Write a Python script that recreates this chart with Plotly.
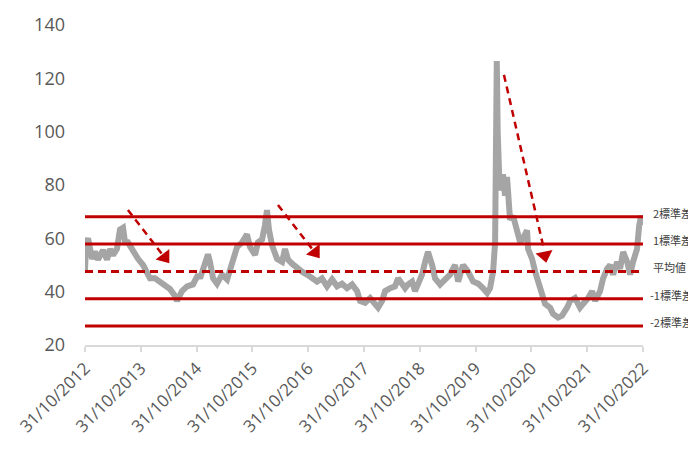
import plotly.graph_objects as go

# Index level, Oct 2012 - Oct 2022
dates = [
    "2012-10-31", "2012-11-07", "2012-11-20", "2012-12-16", "2013-01-04", "2013-01-24",
    "2013-02-26", "2013-03-24", "2013-04-13", "2013-05-02", "2013-05-28", "2013-06-17",
    "2013-07-07", "2013-07-20", "2013-08-08", "2013-09-04", "2013-09-23", "2013-10-13",
    "2013-11-15", "2013-12-11", "2013-12-30", "2014-02-01", "2014-03-06", "2014-04-08",
    "2014-05-10", "2014-06-12", "2014-06-25", "2014-07-28", "2014-08-30", "2014-10-08",
    "2014-11-10", "2014-11-23", "2014-12-12", "2015-01-14", "2015-01-27", "2015-02-16",
    "2015-03-14", "2015-04-16", "2015-05-19", "2015-06-20", "2015-07-23", "2015-08-25",
    "2015-09-26", "2015-10-16", "2015-11-18", "2015-12-07", "2016-01-03", "2016-01-22",
    "2016-02-04", "2016-02-17", "2016-03-08", "2016-04-10", "2016-05-13", "2016-06-01",
    "2016-06-21", "2016-07-17", "2016-08-19", "2016-09-20", "2016-10-23", "2016-12-02",
    "2016-12-28", "2017-01-29", "2017-03-03", "2017-04-05", "2017-05-08", "2017-06-09",
    "2017-07-12", "2017-08-14", "2017-09-16", "2017-10-05", "2017-11-07", "2017-12-10",
    "2018-01-11", "2018-01-31", "2018-02-26", "2018-03-18", "2018-04-20", "2018-05-22",
    "2018-06-11", "2018-07-07", "2018-07-27", "2018-08-15", "2018-09-11", "2018-09-30",
    "2018-10-20", "2018-11-15", "2018-12-05", "2018-12-24", "2019-01-20", "2019-02-08",
    "2019-03-13", "2019-04-15", "2019-05-17", "2019-06-19", "2019-07-09", "2019-08-10",
    "2019-09-12", "2019-10-15", "2019-11-17", "2019-12-19", "2020-01-15", "2020-02-03",
    "2020-02-23", "2020-03-07", "2020-03-18", "2020-03-24", "2020-03-30", "2020-04-06",
    "2020-04-28", "2020-05-11", "2020-05-24", "2020-05-31", "2020-06-13", "2020-07-03",
    "2020-07-29", "2020-08-18", "2020-09-06", "2020-10-02", "2020-10-09", "2020-11-04",
    "2020-11-24", "2020-12-13", "2021-01-09", "2021-01-28", "2021-03-02", "2021-03-21",
    "2021-04-23", "2021-05-19", "2021-06-21", "2021-07-11", "2021-08-12", "2021-09-14",
    "2021-10-04", "2021-11-06", "2021-12-02", "2021-12-21", "2022-01-23", "2022-02-12",
    "2022-03-10", "2022-03-30", "2022-04-18", "2022-05-15", "2022-06-03", "2022-06-23",
    "2022-07-19", "2022-08-08", "2022-08-27", "2022-09-22", "2022-10-06", "2022-10-19",
    "2022-10-31",
]
values = [
    48.0, 58.0, 60.0, 52.3, 55.0, 52.0,
    55.6, 52.0, 56.0, 53.7, 56.0, 63.3,
    64.0, 58.5, 58.5, 55.6, 54.0, 52.3,
    50.0, 46.8, 45.0, 45.0, 43.8, 42.7,
    41.0, 38.4, 36.5, 40.2, 42.0, 42.7,
    46.4, 45.0, 48.6, 54.0, 51.2, 45.0,
    43.0, 46.4, 44.6, 51.2, 56.7, 58.5,
    61.5, 56.7, 53.8, 58.5, 59.6, 65.0,
    70.6, 63.3, 57.4, 52.3, 51.2, 56.0,
    52.0, 50.5, 48.6, 47.5, 46.4, 45.0,
    43.8, 45.0, 42.0, 44.6, 42.0, 43.0,
    41.3, 42.7, 40.2, 36.5, 35.8, 37.6,
    35.4, 34.0, 36.5, 40.2, 41.3, 42.0,
    45.0, 42.7, 41.3, 42.7, 43.8, 40.2,
    42.7, 46.4, 51.2, 54.9, 50.0, 45.0,
    42.7, 44.6, 46.4, 50.0, 43.8, 50.0,
    47.5, 43.8, 43.0, 41.3, 39.5, 41.3,
    47.5, 58.5, 126.5, 100.0, 88.0, 78.0,
    84.0, 76.0, 83.0, 73.0, 67.0, 68.4,
    63.3, 58.5, 60.0, 63.0, 56.0, 52.3,
    47.5, 43.8, 39.0, 35.4, 34.0, 31.7,
    30.3, 31.0, 34.0, 36.5, 37.6, 34.0,
    35.4, 37.6, 40.2, 36.5, 40.2, 45.0,
    48.6, 50.0, 46.4, 51.2, 48.6, 54.9,
    51.2, 46.4, 51.2, 56.0, 64.8, 68.4,
    65.0,
]

# Long-run average and standard deviation bands
mean_value = 47.6
std_value = 10.25
band_labels = ["2標準差", "1標準差", "平均値", "-1標準差", "-2標準差"]
band_multipliers = [2, 1, 0, -1, -2]

tick_dates = ["2012-10-31", "2013-10-31", "2014-10-31", "2015-10-31", "2016-10-31",
              "2017-10-31", "2018-10-31", "2019-10-31", "2020-10-31", "2021-10-31",
              "2022-10-31"]
tick_labels = ["31/10/2012", "31/10/2013", "31/10/2014", "31/10/2015", "31/10/2016",
               "31/10/2017", "31/10/2018", "31/10/2019", "31/10/2020", "31/10/2021",
               "31/10/2022"]

# Downtrend arrows: dashed shaft from start to shaft end, triangular head
arrow_starts = [("2013-08-08", 70.6), ("2016-04-16", 72.5), ("2020-05-04", 121.3)]
arrow_shaft_ends = [("2014-03-16", 54.3), ("2016-11-25", 56.1), ("2021-01-22", 55.6)]
arrow_heads = [("2014-04-06", 52.9), ("2016-12-15", 54.8), ("2021-01-26", 53.6)]
arrow_angles = [142.5, 142.5, 168.3]

RED = "#C00000"
GREY_LINE = "#A5A5A5"
TEXT = "#595959"

fig = go.Figure()

fig.add_trace(go.Scatter(
    x=dates, y=values, mode="lines",
    line=dict(color=GREY_LINE, width=6),
    hoverinfo="skip", showlegend=False,
))

x_start, x_end = dates[0], dates[-1]
for label, k in zip(band_labels, band_multipliers):
    level = mean_value + k * std_value
    fig.add_trace(go.Scatter(
        x=[x_start, x_end], y=[level, level], mode="lines",
        line=dict(color=RED, width=3, dash="8px,5px" if k == 0 else "solid"),
        hoverinfo="skip", showlegend=False,
    ))
    fig.add_annotation(
        x=1, xref="paper", y=level, yref="y",
        text=label, showarrow=False,
        xanchor="left", yanchor="middle",
        xshift=8 if k >= 0 else 5, yshift=4,
        font=dict(family="Noto Sans CJK JP", size=11, color="#404040"),
    )

for (sx, sy), (ex, ey), (hx, hy), ang in zip(arrow_starts, arrow_shaft_ends,
                                               arrow_heads, arrow_angles):
    fig.add_trace(go.Scatter(
        x=[sx, ex], y=[sy, ey], mode="lines",
        line=dict(color=RED, width=2.5, dash="7px,5px"),
        hoverinfo="skip", showlegend=False,
    ))
    fig.add_trace(go.Scatter(
        x=[hx], y=[hy], mode="markers",
        marker=dict(symbol="triangle-up", size=15, angle=ang, color=RED,
                    line=dict(width=0)),
        hoverinfo="skip", showlegend=False,
    ))

fig.update_layout(
    width=688, height=451,
    margin=dict(l=85, r=45, t=18, b=106),
    paper_bgcolor="white", plot_bgcolor="white",
    font=dict(family="Open Sans", color=TEXT),
    xaxis=dict(
        type="date", range=[x_start, x_end],
        tickvals=tick_dates, ticktext=tick_labels, tickangle=-45,
        tickfont=dict(size=17, color=TEXT),
        showgrid=False, zeroline=False,
        showline=True, linecolor="#D9D9D9", linewidth=1.5,
        ticks="outside", ticklen=5, tickcolor="#D9D9D9", tickwidth=1.5,
    ),
    yaxis=dict(
        range=[20, 140], tickvals=[20, 40, 60, 80, 100, 120, 140],
        tickfont=dict(size=18, color=TEXT),
        showgrid=False, zeroline=False, showline=False, ticks="",
        ticklabelstandoff=19,
    ),
)

fig.write_html("out.html")
